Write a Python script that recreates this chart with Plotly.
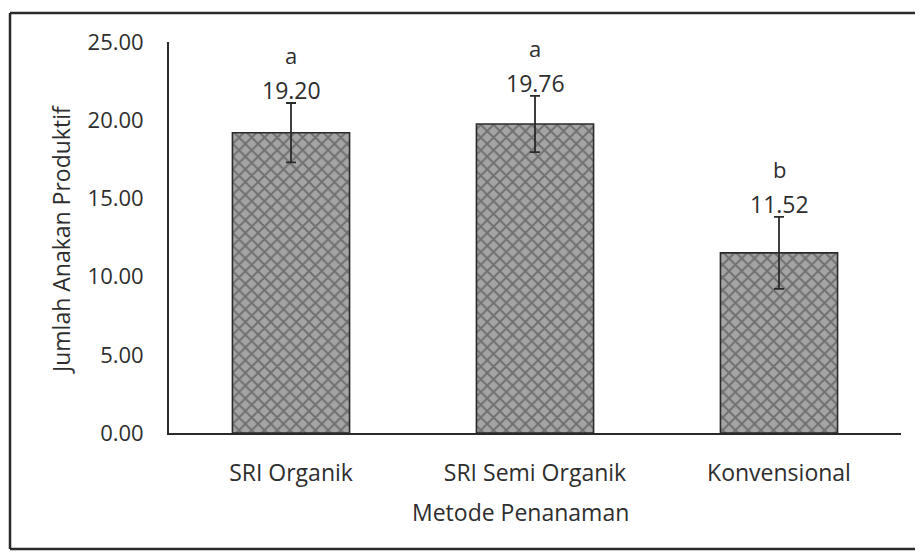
import plotly.graph_objects as go

categories = ["SRI Organik", "SRI Semi Organik", "Konvensional"]
values = [19.20, 19.76, 11.52]
errors = [1.9, 1.8, 2.3]
value_labels = ["19.20", "19.76", "11.52"]
letters = ["a", "a", "b"]
y_ticks = [0, 5, 10, 15, 20, 25]
y_tick_labels = ["0.00", "5.00", "10.00", "15.00", "20.00", "25.00"]

FONT = "Open Sans"
TXT = "#2e2e2e"
LINE = "#2a2a2a"

# page body has 8px default margin -> work in screen coords and convert;
# keep the figure inside the window so that no scrollbars appear
OX, OY = 8, 8
W, H = 923 - 2 * OX, 559 - 2 * OY
plot_l, plot_r, plot_t, plot_b = 169, 901, 42, 433   # screen coords
ml, mr, mt, mb = plot_l - OX, (OX + W) - plot_r, plot_t - OY, (OY + H) - plot_b
pw, ph = plot_r - plot_l, plot_b - plot_t

def px(x):
    return (x - plot_l) / pw

def py(y):
    return (plot_b - y) / ph

fig = go.Figure()
fig.add_trace(go.Bar(
    x=categories, y=values, width=0.48,
    marker=dict(
        color="#a4a4a4",
        line=dict(color=LINE, width=1.6),
        pattern=dict(shape="x", fgcolor="#3a3a3a", bgcolor="#a4a4a4",
                     size=9, solidity=0.38, fillmode="overlay"),
    ),
    error_y=dict(type="data", array=errors, visible=True,
                 color=LINE, thickness=1.8, width=5),
    showlegend=False,
))

for c, v, e, lab, let in zip(categories, values, errors, value_labels, letters):
    fig.add_annotation(x=c, y=v + e, text=lab, showarrow=False,
                       xanchor="center", yanchor="middle", yshift=13,
                       font=dict(family=FONT, size=23, color=TXT))
    fig.add_annotation(x=c, y=v + e, text=let, showarrow=False,
                       xanchor="center", yanchor="middle", yshift=48,
                       font=dict(family=FONT, size=22, color=TXT))

fig.add_annotation(xref="paper", yref="paper", x=px(61), y=py(240),
                   xanchor="center", yanchor="middle",
                   text="Jumlah Anakan Produktif", textangle=-90, showarrow=False,
                   font=dict(family=FONT, size=23, color=TXT))
fig.add_annotation(xref="paper", yref="paper", x=px(520), y=py(512),
                   xanchor="center", yanchor="middle",
                   text="Metode Penanaman", showarrow=False,
                   font=dict(family=FONT, size=23, color=TXT))

# outer frame (left, top, bottom; right edge lies beyond the picture)
frame = dict(color=LINE, width=2.5)
bottom_y = OY + H - 2
fig.add_shape(type="line", xref="paper", yref="paper",
              x0=px(10), x1=px(10), y0=py(bottom_y), y1=py(13), line=frame)
fig.add_shape(type="line", xref="paper", yref="paper",
              x0=px(10), x1=px(930), y0=py(13), y1=py(13), line=frame)
fig.add_shape(type="line", xref="paper", yref="paper",
              x0=px(10), x1=px(930), y0=py(bottom_y), y1=py(bottom_y), line=frame)

fig.update_layout(
    width=W, height=H,
    margin=dict(l=ml, r=mr, t=mt, b=mb, pad=0),
    paper_bgcolor="white", plot_bgcolor="white",
    font=dict(family=FONT, color=TXT),
)
fig.update_xaxes(showline=True, linecolor=LINE, linewidth=1.8,
                 ticks="", ticklabelstandoff=18,
                 tickfont=dict(family=FONT, size=23, color=TXT),
                 showgrid=False, range=[-0.5, 2.5])
fig.update_yaxes(showline=True, linecolor=LINE, linewidth=1.8,
                 range=[0, 25], tickvals=y_ticks, ticktext=y_tick_labels,
                 ticks="", ticklabelstandoff=19,
                 tickfont=dict(family=FONT, size=22, color=TXT),
                 showgrid=False, zeroline=False)

fig.write_html("out.html")
